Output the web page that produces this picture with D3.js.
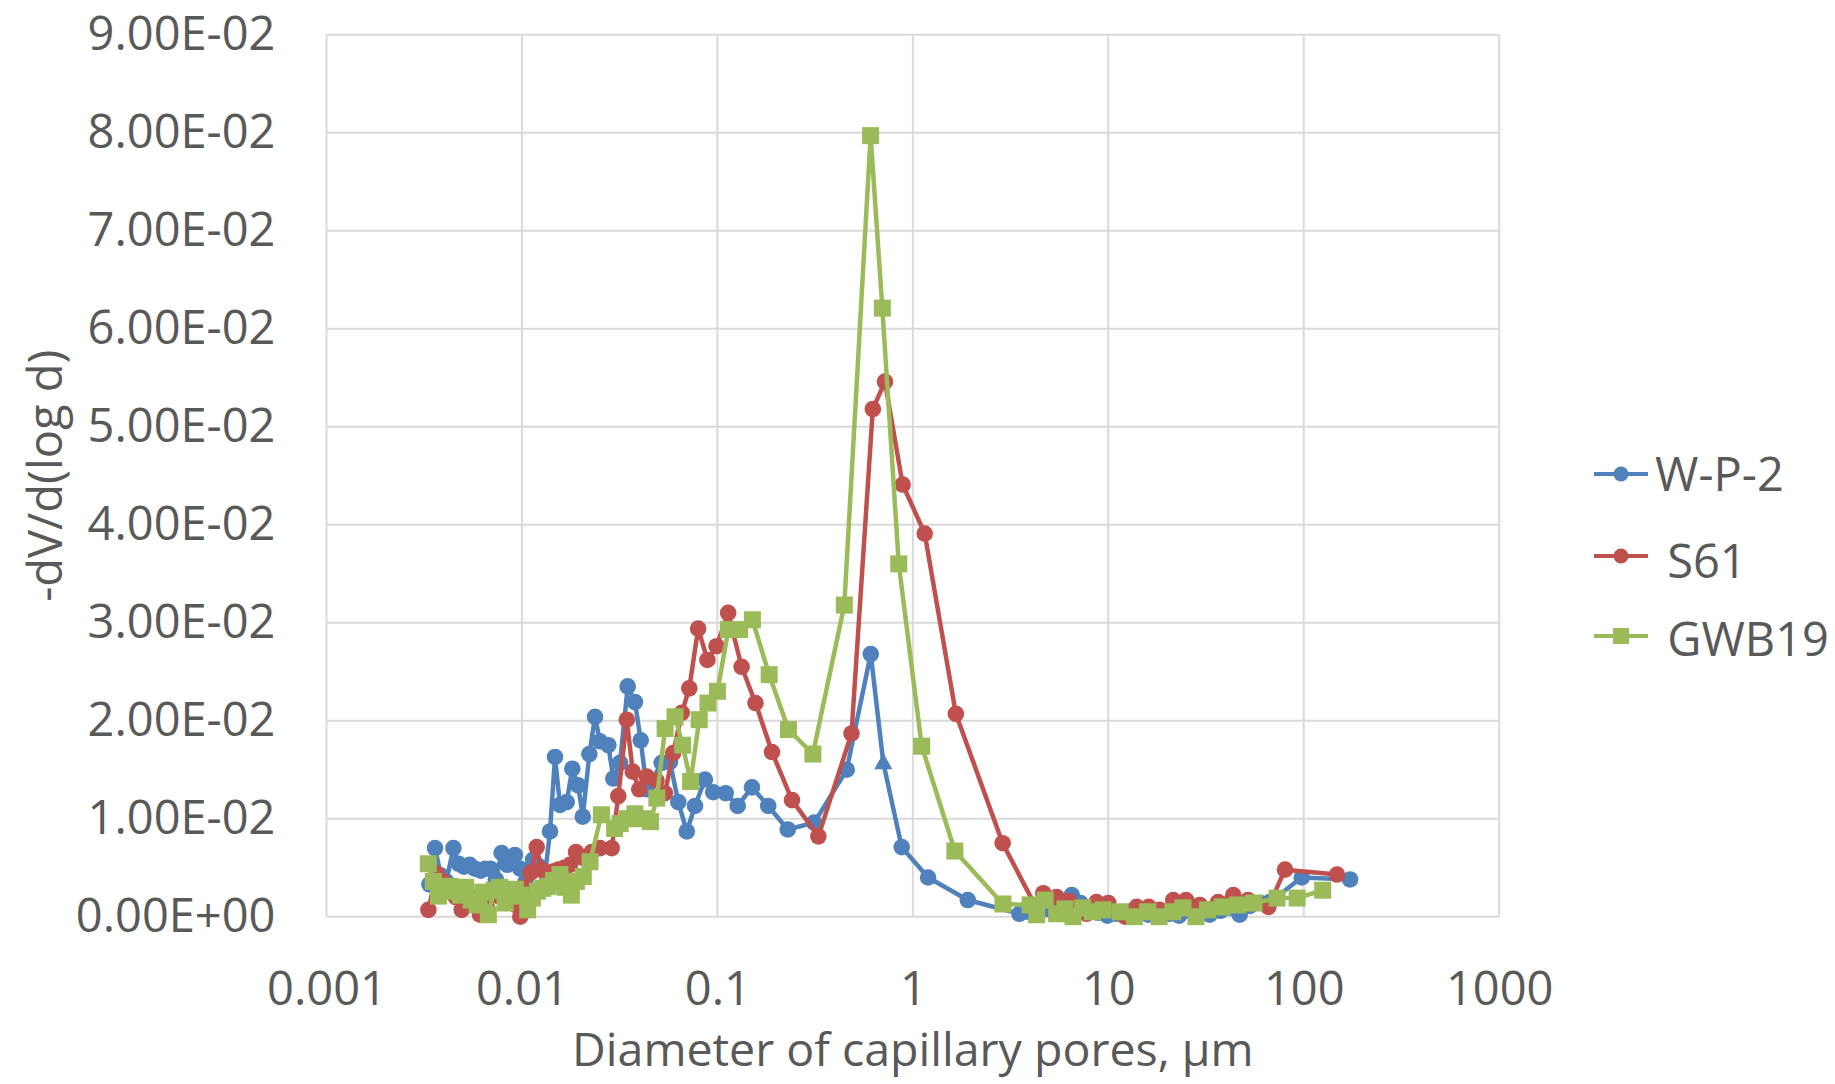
<!DOCTYPE html>
<html><head><meta charset="utf-8">
<script src="https://cdn.jsdelivr.net/npm/d3@7"></script>
<style>
html,body{margin:0;padding:0;background:#fff;}
text{font-family:"Open Sans",sans-serif;fill:#595959;}
</style></head>
<body>
<svg id="chart" width="1835" height="1084"></svg>
<script>
// ---------- data ----------
const seriesNames = ["W-P-2", " S61", " GWB19"];
const seriesColors = ["#4F81BD", "#C0504D", "#9BBB59"];
const seriesMarkers = ["circle", "circle", "square"];

const wp2D = [0.00336,0.00359,0.00385,0.00410,0.00446,0.00475,0.00505,0.00540,0.00575,0.00615,0.00650,0.00690,0.00735,0.00787,0.00840,0.00920,0.00980,0.0104,0.0110,0.0114,0.0121,0.0129,0.01392,0.01476,0.01565,0.01694,0.0181,0.0194,0.02047,0.02213,0.02365,0.02506,0.02766,0.02934,0.03175,0.03476,0.03787,0.04052,0.04348,0.0519,0.0572,0.0631,0.0697,0.0768,0.0863,0.0952,0.1103,0.127,0.1503,0.182,0.229,0.313,0.459,0.609,0.706,0.877,1.197,1.91,3.51,3.9,4.3,4.8,5.3,5.9,6.5,7.2,8.0,8.9,9.9,11,12.5,14,16,18,20.5,23,26,29.5,33,37.5,42,47,53,60,67,97.7,172.6];
const wp2V = [0.0033,0.0070,0.0042,0.0036,0.0070,0.0054,0.0051,0.0053,0.0049,0.0047,0.0049,0.0049,0.0038,0.0065,0.0053,0.0063,0.0049,0.0035,0.0025,0.0058,0.0052,0.0030,0.0087,0.0163,0.0114,0.0117,0.0151,0.0134,0.0102,0.0166,0.0204,0.0179,0.0175,0.0141,0.0157,0.0235,0.0219,0.0180,0.0130,0.0157,0.0158,0.0117,0.0087,0.0113,0.0140,0.0127,0.0126,0.0113,0.0132,0.0113,0.0089,0.0096,0.0150,0.0268,0.0157,0.0071,0.0040,0.0017,0.0003,0.0005,0.0003,0.0008,0.0004,0.0012,0.0022,0.0014,0.0006,0.0004,0.0001,0.0003,0.0005,0.0004,0.0002,0.0005,0.0003,0.0001,0.0006,0.0004,0.0002,0.0006,0.0009,0.0002,0.0011,0.0014,0.0015,0.0040,0.0038];
// one point of W-P-2 is drawn with a triangle marker in the original
const wp2TriangleIndex = [54];

const s61D = [0.00332,0.00366,0.00395,0.00425,0.00458,0.00492,0.00530,0.00570,0.0061,0.0066,0.0071,0.0076,0.0082,0.0088,0.0093,0.0098,0.0104,0.0111,0.0119,0.0126,0.0135,0.01435,0.01535,0.0165,0.0176,0.0189,0.0205,0.02275,0.0251,0.0288,0.0311,0.0344,0.0369,0.0398,0.0435,0.0488,0.0539,0.0594,0.0657,0.0718,0.0797,0.0889,0.0990,0.1135,0.1330,0.1566,0.1903,0.2408,0.3285,0.4855,0.624,0.720,0.887,1.15,1.66,2.88,4.26,4.65,5.44,6.3,7.74,8.7,10.0,12.2,13.96,16.1,18.3,21.5,25,29.4,36.5,43.6,51.9,65.9,80.2,148];
const s61V = [0.0007,0.0044,0.0036,0.0030,0.0020,0.0007,0.0013,0.0019,0.0002,0.0010,0.0025,0.0021,0.0014,0.0020,0.0012,0.0000,0.0030,0.0045,0.0071,0.0048,0.0040,0.0046,0.0048,0.0050,0.0053,0.0066,0.0060,0.0066,0.0070,0.0070,0.0123,0.0201,0.0148,0.0130,0.0143,0.0139,0.0126,0.0167,0.0208,0.0233,0.0294,0.0262,0.0276,0.0310,0.0255,0.0218,0.0168,0.0119,0.0082,0.0187,0.0518,0.0546,0.0441,0.0391,0.0207,0.0075,0.0010,0.0024,0.0020,0.0016,0.0003,0.0015,0.0014,0.0000,0.0010,0.0010,0.0007,0.0017,0.0017,0.0012,0.0015,0.0022,0.0017,0.0010,0.0048,0.0043];

const gwbD = [0.00332,0.00352,0.00374,0.00400,0.00429,0.00454,0.00485,0.00515,0.00550,0.00590,0.00630,0.00673,0.00720,0.00770,0.00820,0.00870,0.00925,0.0098,0.0107,0.0113,0.0120,0.0128,0.0136,0.0145,0.01565,0.0166,0.0179,0.0190,0.0206,0.0223,0.0255,0.0298,0.0318,0.0345,0.0378,0.0415,0.0455,0.0490,0.054,0.0607,0.0664,0.0729,0.0807,0.0895,0.1,0.1138,0.130,0.151,0.184,0.231,0.308,0.446,0.608,0.698,0.847,1.11,1.64,2.89,3.98,4.3,4.75,5.44,6.0,6.6,7.4,8.3,9.4,11.5,13.6,15.9,18.2,21.4,24.1,28.1,32.2,38.3,45.9,55.6,73,92.5,125];
const gwbV = [0.0054,0.0036,0.0021,0.0028,0.0031,0.0026,0.0022,0.0030,0.0017,0.0012,0.0025,0.0002,0.0027,0.0030,0.0014,0.0021,0.0028,0.0022,0.0007,0.0019,0.0026,0.0029,0.0031,0.0037,0.0043,0.0030,0.0022,0.0036,0.0041,0.0056,0.0104,0.0090,0.0095,0.0100,0.0105,0.0100,0.0097,0.0121,0.0192,0.0204,0.0175,0.0138,0.0201,0.0218,0.0230,0.0293,0.0293,0.0303,0.0247,0.0191,0.0166,0.0318,0.0797,0.0621,0.0360,0.0174,0.0067,0.0013,0.0012,0.0002,0.0017,0.0003,0.0008,0.0000,0.0009,0.0005,0.0007,0.0005,0.0000,0.0005,0.0000,0.0005,0.0009,0.0000,0.0007,0.0010,0.0012,0.0014,0.0019,0.0019,0.0027];

const xTicks = [0.001,0.01,0.1,1,10,100,1000];
const xTickLabels = ["0.001","0.01","0.1","1","10","100","1000"];
const yTicks = [0,0.01,0.02,0.03,0.04,0.05,0.06,0.07,0.08,0.09];
const yTickLabels = ["0.00E+00","1.00E-02","2.00E-02","3.00E-02","4.00E-02","5.00E-02","6.00E-02","7.00E-02","8.00E-02","9.00E-02"];

const xTitle = "Diameter of capillary pores, µm";
const yTitle = "-dV/d(log d)";

// ---------- layout ----------
const L = 326.5, R = 1499.2, T = 34.7, B = 916.7;
const FS = 47;
const svg = d3.select("#chart");

const x = d3.scaleLog().domain([0.001, 1000]).range([L, R]);
const y = d3.scaleLinear().domain([0, 0.09]).range([B, T]);

// gridlines
const grid = svg.append("g");
grid.selectAll("line.h").data(yTicks).join("line")
  .attr("x1", L).attr("x2", R).attr("y1", d => y(d)).attr("y2", d => y(d))
  .attr("stroke", "#D9D9D9").attr("stroke-width", 2);
grid.selectAll("line.v").data(xTicks).join("line")
  .attr("x1", d => x(d)).attr("x2", d => x(d)).attr("y1", T).attr("y2", B)
  .attr("stroke", "#D9D9D9").attr("stroke-width", 2);

// axes (labels only)
const yAxis = d3.axisLeft(y).tickValues(yTicks).tickSize(0).tickPadding(51)
  .tickFormat((d, i) => yTickLabels[i]);
const gy = svg.append("g").attr("transform", `translate(${L},0)`).call(yAxis);
gy.select(".domain").remove();
gy.selectAll("text").style("font-size", FS + "px").style("font-family", '"Open Sans",sans-serif').attr("fill", "#595959");

const xAxis = d3.axisBottom(x).tickValues(xTicks).tickSize(0).tickPadding(88)
  .tickFormat((d, i) => xTickLabels[i]);
const gx = svg.append("g").attr("transform", `translate(0,${B})`).call(xAxis);
gx.select(".domain").remove();
gx.selectAll("text").style("font-size", FS + "px").style("font-family", '"Open Sans",sans-serif').attr("fill", "#595959").attr("dy", "0");

// titles
svg.append("text").attr("x", (L + R) / 2).attr("y", 1066).attr("text-anchor", "middle")
  .style("font-size", "46.5px").text(xTitle);
svg.append("text").attr("transform", `translate(62,${(T + B) / 2}) rotate(-90)`).attr("text-anchor", "middle")
  .style("font-size", FS + "px").text(yTitle);

// series
const series = [
  {D: wp2D, V: wp2V},
  {D: s61D, V: s61V},
  {D: gwbD, V: gwbV}
];
const line = d3.line().x(p => x(p[0])).y(p => y(p[1]));
const sq = 17, cr = 8.3;
const triPath = "M0,-10L9,6.5L-9,6.5Z";

series.forEach((s, si) => {
  const pts = s.D.map((d, i) => [d, s.V[i], i]);
  const g = svg.append("g");
  g.append("path").attr("d", line(pts)).attr("fill", "none")
    .attr("stroke", seriesColors[si]).attr("stroke-width", 4.5).attr("stroke-linejoin", "round");
  pts.forEach(p => {
    const cx = x(p[0]), cy = y(p[1]);
    if (si === 0 && wp2TriangleIndex.includes(p[2])) {
      g.append("path").attr("d", triPath).attr("transform", `translate(${cx},${cy})`).attr("fill", seriesColors[si]);
    } else if (seriesMarkers[si] === "circle") {
      g.append("circle").attr("cx", cx).attr("cy", cy).attr("r", cr).attr("fill", seriesColors[si]);
    } else {
      g.append("rect").attr("x", cx - sq / 2).attr("y", cy - sq / 2).attr("width", sq).attr("height", sq).attr("fill", seriesColors[si]);
    }
  });
});

// legend
const legY = [474, 556, 636];
const legTextDy = [0, 5, 3];
seriesNames.forEach((n, i) => {
  const g = svg.append("g").attr("transform", `translate(0,${legY[i]})`);
  g.append("line").attr("x1", 1594).attr("x2", 1648).attr("y1", 0).attr("y2", 0)
    .attr("stroke", seriesColors[i]).attr("stroke-width", 4);
  if (seriesMarkers[i] === "circle") g.append("circle").attr("cx", 1621).attr("cy", 0).attr("r", 7.5).attr("fill", seriesColors[i]);
  else g.append("rect").attr("x", 1621 - 8).attr("y", -8).attr("width", 16).attr("height", 16).attr("fill", seriesColors[i]);
  g.append("text").attr("x", 1655).attr("y", legTextDy[i]).attr("dy", "0.36em").style("white-space", "pre")
    .style("font-size", FS + "px").text(n);
});
</script>
</body></html>
